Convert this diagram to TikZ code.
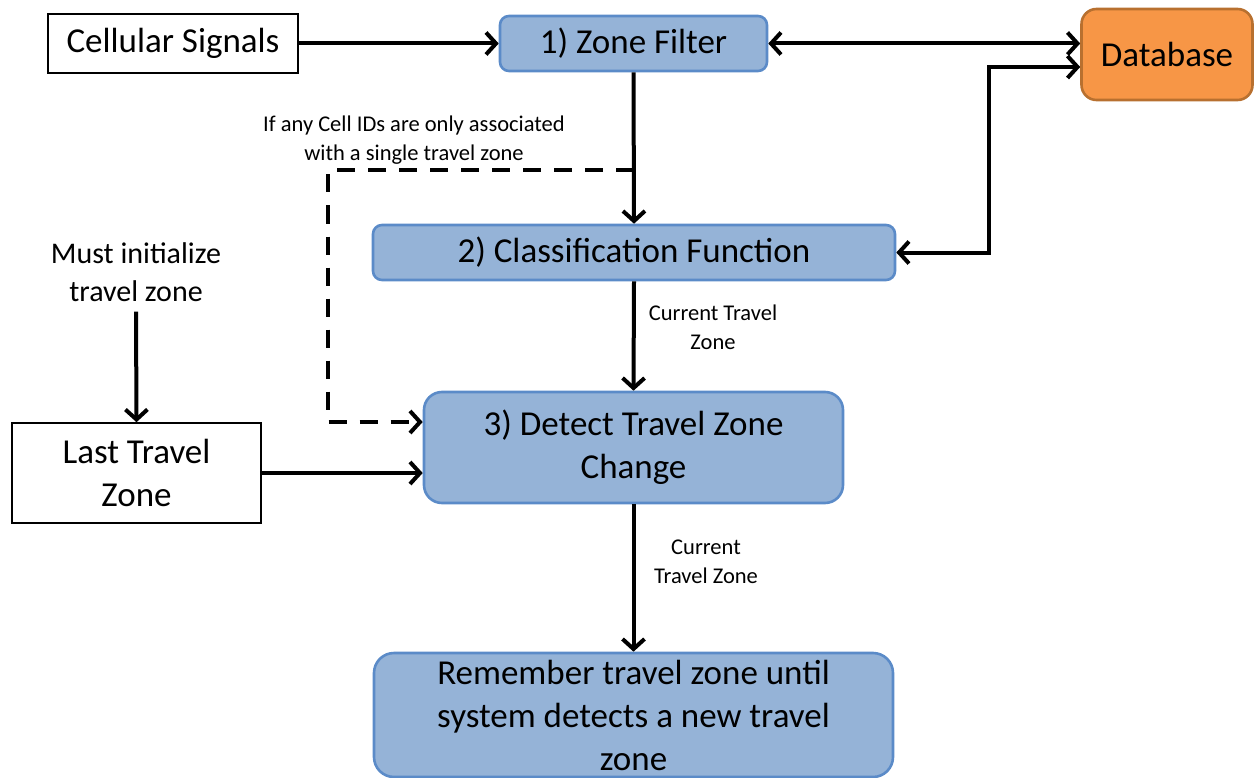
\documentclass[tikz,border=0pt]{standalone}
\usepackage{fontspec}
\setmainfont{Carlito}
\usetikzlibrary{arrows.meta}
\definecolor{bfill}{HTML}{95B3D7}
\definecolor{bdraw}{HTML}{5B8BC8}
\definecolor{ofill}{HTML}{F79646}
\definecolor{odraw}{HTML}{B8702F}
\tikzset{
  big/.style={font=\fontsize{35}{43}\selectfont},
  mid/.style={font=\fontsize{30}{38}\selectfont},
  small/.style={font=\fontsize{22.5}{29}\selectfont},
  plainbox/.style={draw=black, line width=1.6pt, inner sep=0pt, align=center, big},
  bluebox/.style={draw=bdraw, fill=bfill, line width=2.6pt, inner sep=0pt, align=center, big},
  orangebox/.style={draw=odraw, fill=ofill, line width=2.6pt, inner sep=0pt, align=center, big, rounded corners=15pt},
  arr/.style={line width=4pt, -{Straight Barb[length=10pt,width=22pt]}},
  darr/.style={line width=4pt, {Straight Barb[length=10pt,width=22pt]}-{Straight Barb[length=10pt,width=22pt]}},
  dashedarr/.style={line width=4pt, dash pattern=on 18pt off 13pt, -{Straight Barb[length=10pt,width=22pt]}},
}
\begin{document}
\begin{tikzpicture}[x=1pt,y=-1pt]
\useasboundingbox (0,0) rectangle (1255,778);
\node[plainbox, minimum width=250pt, minimum height=59pt] (cell) at (173,43.5) {Cellular Signals};
\node[bluebox, rounded corners=9pt, minimum width=267pt, minimum height=55pt] (zf) at (633.5,43.5) {1) Zone Filter};
\node[orangebox, minimum width=171pt, minimum height=91pt] (db) at (1167,54.5) {Database};
\node[bluebox, rounded corners=9pt, minimum width=522pt, minimum height=55pt] (cls) at (634,252.5) {2) Classification Function};
\node[bluebox, rounded corners=18pt, minimum width=419pt, minimum height=111pt] (det) at (633.5,447.5) {3) Detect Travel Zone\\Change};
\node[plainbox, minimum width=249pt, minimum height=100pt] (last) at (136.5,473) {Last Travel\\Zone};
\node[bluebox, rounded corners=20pt, minimum width=519pt, minimum height=124pt] (rem) at (633.5,715) {Remember travel zone until\\system detects a new travel\\zone};
\node[mid, align=center, inner sep=0pt] (must) at (136,272) {Must initialize\\travel zone};
\node[small, align=center, inner sep=0pt] (lblA) at (414,140) {If any Cell IDs are only associated\\with a single travel zone};
\node[small, align=center, inner sep=0pt] (lblB) at (713,327) {Current Travel\\Zone};
\node[small, align=center, inner sep=0pt] (lblC) at (706,562) {Current\\Travel Zone};

\draw[arr] (cell.east) -- (zf.west);
\draw[darr] (zf.east) -- (zf.east -| db.west);
\draw[darr] (cls.east) -- ++(93,0) |- ([yshift=-12.5pt]db.west);
\draw[arr] (zf.south) -- (cls.north);
\coordinate (dj) at (633.5,170);
\draw[dashedarr] (dj) -- ++(-305.5,0) |- ([yshift=25.5pt]det.west);
\draw[arr] (cls.south) -- (det.north);
\draw[arr] (last.east) -- (last.east -| det.west);
\draw[arr] ([yshift=-10pt]must.south) -- (last.north);
\draw[arr] (det.south) -- (rem.north);
\end{tikzpicture}
\end{document}
